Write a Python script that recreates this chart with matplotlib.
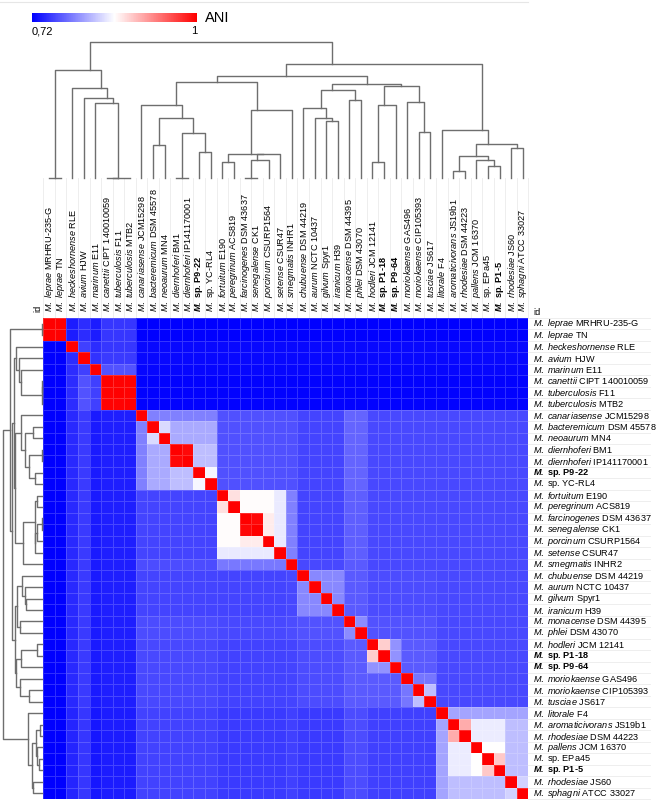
import numpy as np
import matplotlib
matplotlib.use("Agg")
import matplotlib.pyplot as plt
from matplotlib.colors import LinearSegmentedColormap, Normalize
from matplotlib.cm import ScalarMappable
from matplotlib.transforms import blended_transform_factory

plt.rcParams['font.family'] = ['Liberation Sans', 'DejaVu Sans']
plt.rcParams['mathtext.fontset'] = 'custom'
plt.rcParams['mathtext.rm'] = 'Liberation Sans'
plt.rcParams['mathtext.it'] = 'Liberation Sans:italic'
plt.rcParams['mathtext.bf'] = 'Liberation Sans:bold'
plt.rcParams['mathtext.bfit'] = 'Liberation Sans:bold:italic'

# species epithet and strain of every genome
species = ["leprae", "leprae", "heckeshornense", "avium", "marinum", "canettii",
           "tuberculosis", "tuberculosis", "canariasense", "bacteremicum", "neoaurum",
           "diernhoferi", "diernhoferi", "sp.", "sp.", "fortuitum", "peregrinum",
           "farcinogenes", "senegalense", "porcinum", "setense", "smegmatis",
           "chubuense", "aurum", "gilvum", "iranicum", "monacense", "phlei", "hodleri",
           "sp.", "sp.", "moriokaense", "moriokaense", "tusciae", "litorale",
           "aromaticivorans", "rhodesiae", "pallens", "sp.", "sp.", "rhodesiae", "sphagni"]
strains = ["MRHRU-235-G", "TN", "RLE", "HJW", "E11", "CIPT 140010059", "F11", "MTB2",
           "JCM15298", "DSM 45578", "MN4", "BM1", "IP141170001", "P9-22", "YC-RL4",
           "E190", "ACS819", "DSM 43637", "CK1", "CSURP1564", "CSUR47", "INHR2",
           "DSM 44219", "NCTC 10437", "Spyr1", "H39", "DSM 44395", "DSM 43070",
           "JCM 12141", "P1-18", "P9-64", "GAS496", "CIP105393", "JS617", "F4",
           "JS19b1", "DSM 44223", "JCM 16370", "EPa45", "P1-5", "JS60", "ATCC 33027"]
col_strains = list(strains)
col_strains[21] = "INHR1"
bold = [13, 29, 30, 39]

# clade of each genome and clade-by-clade ANI (rows query, cols reference)
clade = [0, 0, 1, 2, 3, 4, 4, 4, 5, 5, 5, 5, 5, 5, 5, 6, 6, 6, 6, 6, 6, 7,
         8, 8, 8, 8, 9, 9, 10, 10, 10, 10, 10, 10, 11, 11, 11, 11, 11, 11, 11, 11]
clade_ani = [
    [1.00, .736, .745, .736, .750, .716, .716, .716, .716, .716, .716, .716],
    [.716, 1.00, .755, .745, .750, .725, .725, .725, .725, .725, .725, .725],
    [.716, .745, 1.00, .748, .752, .725, .725, .725, .725, .725, .725, .725],
    [.716, .745, .755, 1.00, .765, .724, .724, .724, .724, .724, .724, .724],
    [.716, .745, .765, .755, .998, .722, .722, .722, .722, .722, .722, .722],
    [.716, .742, .752, .735, .737, .790, .764, .764, .758, .775, .760, .760],
    [.716, .742, .752, .735, .737, .758, .860, .790, .758, .772, .760, .760],
    [.716, .742, .752, .735, .737, .762, .786, 1.00, .760, .770, .760, .760],
    [.716, .742, .752, .735, .737, .758, .758, .760, .795, .770, .762, .760],
    [.716, .742, .752, .735, .737, .762, .760, .762, .765, .797, .765, .760],
    [.716, .742, .752, .735, .737, .760, .757, .758, .762, .770, .770, .760],
    [.716, .740, .750, .733, .736, .757, .752, .755, .752, .762, .755, .810],
]
# closer pairs inside clades (genomes a, genomes b, ANI), used both ways
pairs = [
    ([9, 10, 11, 12, 13, 14], [8], .790),
    ([9, 10], [11, 12, 13, 14], .813),
    ([9], [10], .840),
    ([11], [12], .995),
    ([11, 12], [13, 14], .824),
    ([13], [14], .855),
    ([15, 16], [17, 18, 19], .862),
    ([15], [16], .877),
    ([17], [18], .995),
    ([17, 18], [19], .870),
    ([20], [15, 16, 17, 18, 19], .849),
    ([28], [29], .887),
    ([28, 29], [30], .800),
    ([31], [32, 33], .785),
    ([32], [33], .825),
    ([35, 36, 37, 38, 39], [35, 36, 37, 38, 39], .850),
    ([35], [36], .905),
    ([37], [38, 39], .860),
    ([38], [39], .890),
    ([40, 41], [35, 36, 37, 38, 39], .824),
    ([40], [41], .835),
]

# column tree: (child a, child b, height); nodes >= 42 are earlier merges
col_merges = [
    (0, 1, 0.5), (5, 6, 0.5), (43, 7, 0.5), (4, 44, 75), (3, 45, 80), (2, 46, 90),
    (42, 47, 108), (9, 10, 33), (11, 12, 0.5), (13, 14, 26), (50, 51, 45),
    (49, 52, 60), (8, 53, 73), (15, 16, 16), (17, 18, 0.5), (56, 19, 18),
    (57, 20, 24), (55, 58, 24.5), (59, 21, 68), (54, 60, 96), (24, 25, 57),
    (23, 62, 60), (22, 63, 70), (26, 27, 78), (64, 65, 88.5), (28, 29, 16),
    (67, 30, 73), (32, 33, 46), (31, 69, 76), (68, 70, 92), (66, 71, 94),
    (61, 72, 102), (35, 36, 7), (38, 39, 12), (37, 75, 18), (74, 76, 22),
    (40, 41, 30), (77, 78, 34), (34, 79, 48), (73, 80, 114), (48, 81, 136),
]
# row tree
row_merges = [
    (0, 1, 0.2), (5, 6, 0.2), (43, 7, 0.2), (4, 44, 21.5), (3, 45, 23), (2, 46, 26),
    (9, 10, 9.5), (11, 12, 0.2), (13, 14, 7.5), (49, 50, 13), (48, 51, 17),
    (8, 52, 21), (15, 16, 4.6), (17, 18, 0.2), (55, 19, 5.2), (56, 20, 6.9),
    (54, 57, 7), (58, 21, 19.5), (53, 59, 27.5), (24, 25, 16.4), (23, 61, 17.2),
    (22, 62, 20), (26, 27, 22.4), (63, 64, 25.4), (28, 29, 4.6), (66, 30, 21),
    (32, 33, 13.2), (31, 68, 21.8), (67, 69, 26.4), (65, 70, 27), (47, 60, 28.5),
    (72, 71, 30), (42, 73, 32), (35, 36, 2), (38, 39, 3.4), (37, 76, 5.2),
    (75, 77, 6.3), (40, 41, 8.6), (78, 79, 9.8), (34, 80, 13.8), (74, 81, 39),
]

n = len(species)
ani = np.array(clade_ani)[np.ix_(clade, clade)]
for a, b, v in pairs:
    ani[np.ix_(a, b)] = v
    ani[np.ix_(b, a)] = v
np.fill_diagonal(ani, 1.0)


def tree_segments(merges, n, leaf_mean=True):
    # parent above the mean of its leaves, or above the middle of its two children
    leaves = {i: [i + 0.5] for i in range(n)}
    pos = {i: i + 0.5 for i in range(n)}
    hgt = {i: 0.0 for i in range(n)}
    segs = []
    for k, (a, b, h) in enumerate(merges):
        pa, pb = pos[a], pos[b]
        segs.append(([pa, pa, pb, pb], [hgt[a], h, h, hgt[b]]))
        leaves[n + k] = leaves[a] + leaves[b]
        pos[n + k] = np.mean(leaves[n + k]) if leaf_mean else (pa + pb) / 2
        hgt[n + k] = h
    return segs


def label(i, strain_list):
    if i in bold:
        return r"$\mathbfit{M.}$ sp. " + strain_list[i]
    if species[i] == "sp.":
        return r"$\mathit{M.}$ sp. " + strain_list[i]
    return r"$\mathit{M.\ %s}$ %s" % (species[i], strain_list[i])


W, H = 669, 801
fig = plt.figure(figsize=(W / 100, H / 100), dpi=100)


def box(x0, y0, x1, y1):
    return [x0 / W, 1 - y1 / H, (x1 - x0) / W, (y1 - y0) / H]


cmap = LinearSegmentedColormap.from_list("ani", ["#0000ff", "#ffffff", "#ff0000"])
norm = Normalize(0.72, 1.0)

ax = fig.add_axes(box(43.3, 318, 528.4, 799))
ax.pcolormesh(np.arange(n + 1), np.arange(n + 1), ani, cmap=cmap, norm=norm,
              edgecolors=(1, 1, 1, 0.18), linewidth=0.4)
ax.set_xlim(0, n)
ax.set_ylim(n, 0)
ax.set_axis_off()

fs = 6.6
top_tr = blended_transform_factory(ax.transData, ax.transAxes)
right_tr = blended_transform_factory(ax.transAxes, ax.transData)
for i in range(n):
    w = 'bold' if i in bold else 'normal'
    ax.text(i + 0.5, 1.013, label(i, col_strains), transform=top_tr, rotation=90,
            ha='center', va='bottom', fontsize=fs, fontweight=w)
    ax.text(1.01, i + 0.5, label(i, strains), transform=right_tr,
            ha='left', va='center', fontsize=fs, fontweight=w)
for i in range(n + 1):
    ax.plot([i, i], [1.0, 1.291], transform=top_tr, color='#ebebeb', lw=0.6,
            clip_on=False, zorder=0)
    ax.plot([1.0, 1.25], [i, i], transform=right_tr, color='#ebebeb', lw=0.6,
            clip_on=False, zorder=0)
ax.text(-0.012, 1.012, "id", transform=ax.transAxes, rotation=90, ha='center',
        va='bottom', fontsize=fs)
ax.text(1.01, 1.003, "id", transform=ax.transAxes, ha='left', va='bottom', fontsize=fs)

# top dendrogram
axt = fig.add_axes(box(43.3, 42, 528.4, 178))
for xs, ys in tree_segments(col_merges, n):
    axt.plot(xs, ys, color='#6e6e6e', lw=1.0, clip_on=False)
axt.set_xlim(0, n)
axt.set_ylim(0, 136)
axt.set_axis_off()

# left dendrogram
axl = fig.add_axes(box(3, 318, 42, 799))
for xs, ys in tree_segments(row_merges, n, leaf_mean=False):
    axl.plot(ys, xs, color='#6e6e6e', lw=1.0, clip_on=False)
axl.set_ylim(n, 0)
axl.set_xlim(39, 0)
axl.set_axis_off()

# faint frame line along the top
fig.add_artist(plt.Line2D([0, 528 / W], [1 - 1.5 / H, 1 - 1.5 / H], color='#e6e6e6', lw=0.8))

# colour key
cax = fig.add_axes(box(32, 13, 197, 22))
cb = fig.colorbar(ScalarMappable(norm=norm, cmap=cmap), cax=cax, orientation='horizontal')
cb.set_ticks([0.72, 1.0])
cb.set_ticklabels(["0,72", "1"])
cb.outline.set_visible(False)
cax.tick_params(length=0, labelsize=8, pad=3)
cax.get_xticklabels()[0].set_ha('left')
cax.get_xticklabels()[1].set_ha('right')
fig.text(205 / W, 1 - 18 / H, "ANI", fontsize=10.5, va='center', ha='left')

fig.savefig("out.png", dpi=100)
